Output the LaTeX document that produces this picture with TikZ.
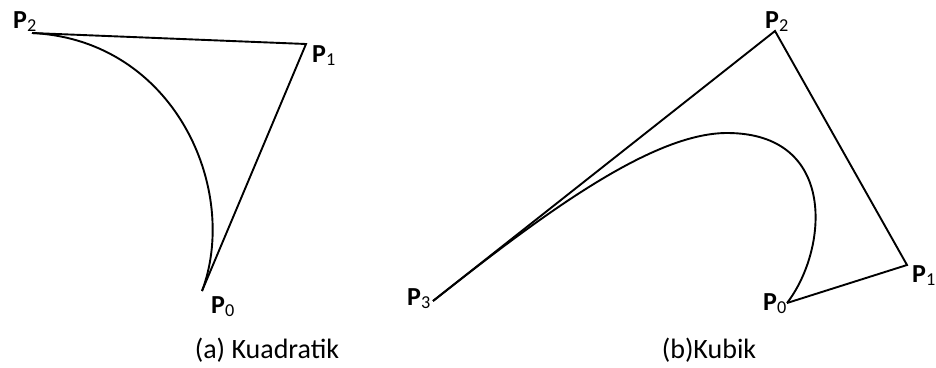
\documentclass[tikz,border=0pt]{standalone}
\usepackage{fontspec}
\setmainfont{Carlito}
\begin{document}
\begin{tikzpicture}[x=1pt,y=-1pt,
  lbl/.style={inner sep=0pt, anchor=base west, font=\fontsize{26}{30}\selectfont},
  capt/.style={inner sep=0pt, anchor=base, font=\fontsize{28}{32}\selectfont},
  poly/.style={line width=1.9pt, line join=miter},
  crv/.style={line width=1.9pt}]
\useasboundingbox (0,0) rectangle (936,367);
% (a) quadratic
\coordinate (a0) at (202,291);
\coordinate (a1) at (306,44);
\coordinate (a2) at (32,33);
\draw[poly] (a2) -- (a1) -- (a0);
\draw[crv] (a2) .. controls (175,40) and (240,190) .. (a0);
\node[lbl] (la2) at (13,28) {\textbf{P}\textsubscript{2}};
\node[lbl] (la1) at (312,62) {\textbf{P}\textsubscript{1}};
\node[lbl] (la0) at (211,313) {\textbf{P}\textsubscript{0}};
\node[capt] (capa) at (267,358) {(a) Kuadratik};
% (b) cubic
\coordinate (b0) at (787,303);
\coordinate (b1) at (907,265);
\coordinate (b2) at (775,31);
\coordinate (b3) at (433,301);
\coordinate (bt) at (727,133);
\draw[poly] (b3) -- (b2) -- (b1) -- (b0);
\draw[crv] (b0) .. controls (828,250) and (838,133) .. (bt) .. controls (650,133) and (537,219) .. (b3);
\node[lbl] (lb2) at (765,28) {\textbf{P}\textsubscript{2}};
\node[lbl] (lb1) at (912,282) {\textbf{P}\textsubscript{1}};
\node[lbl] (lb0) at (763,310) {\textbf{P}\textsubscript{0}};
\node[lbl] (lb3) at (407,305) {\textbf{P}\textsubscript{3}};
\node[capt] (capb) at (709,358) {(b)Kubik};
\end{tikzpicture}
\end{document}
